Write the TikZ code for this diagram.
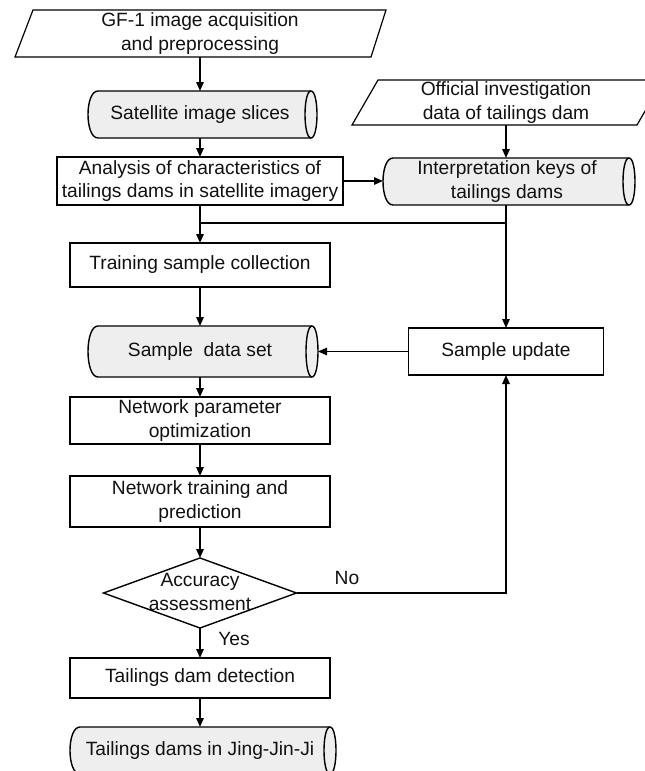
\documentclass[tikz,border=0pt]{standalone}
\usepackage{fontspec}
\setmainfont{Liberation Sans}
\usetikzlibrary{arrows.meta,shapes.geometric,calc}
\definecolor{cylfill}{HTML}{EEEEEE}
\definecolor{txtcol}{HTML}{111111}
\tikzset{
  line/.style={line width=1.4pt, draw=black},
  arr/.style={line, -{Triangle[length=9pt,width=7.5pt]}},
  txt/.style={align=center, inner sep=0pt, outer sep=0pt, text=txtcol, font=\fontsize{19.2}{23.5}\selectfont},
  boxnode/.style={txt, draw=black, line width=1.4pt},
  lbl/.style={inner sep=0pt, text=txtcol, font=\fontsize{19.2}{23.5}\selectfont},
}
\newcommand\mycyl[7]{% name, xl, xr, top, bot, text, text-x
  \path[draw=black, line width=1.4pt, fill=cylfill]
    ({#2+10},#4) -- (#3,#4) .. controls ({#3+8},#4) and ({#3+8},#5) .. (#3,#5)
    -- ({#2+10},#5) .. controls ({#2-3.33},#5) and ({#2-3.33},#4) .. cycle;
  \draw[line width=1.4pt] (#3,#4) .. controls ({#3-8},#4) and ({#3-8},#5) .. (#3,#5);
  \node[txt, minimum width={#3+6-#2}, minimum height={#5-#4}] (#1) at ({(#2+#3+6)/2},{(#4+#5)/2}) {};
  \node[txt] at (#7,{(#4+#5)/2}) {#6};
}
\begin{document}
\begin{tikzpicture}[x=1pt,y=-1pt]
\useasboundingbox (0,0) rectangle (645,771);
\clip (0,0) rectangle (645,771);

% parallelograms
\draw[line width=1.2pt] (33,10) -- (386,10) -- (371,57) -- (15,57) -- cycle;
\node[txt, minimum width=330, minimum height=47] (gf) at (200,33.5) {GF-1 image acquisition\\and preprocessing};
\draw[line width=1.2pt] (378,80) -- (663,80) -- (637,125) -- (352,125) -- cycle;
\node[txt, minimum width=260, minimum height=45] (off) at (506,102.5) {Official investigation\\data of tailings dam};

% cylinders
\mycyl{sat}{88}{311}{91}{138}{Satellite image slices}{200}
\mycyl{int}{383}{629}{158}{205}{Interpretation keys of\\tailings dams}{507}
\mycyl{sds}{88}{312}{326}{377}{Sample~ data set}{200}
\mycyl{fin}{70}{330}{727}{774}{Tailings dams in Jing-Jin-Ji}{200}

% boxes
\node[boxnode, minimum width=286, minimum height=48] (ana) at (200,181) {Analysis of characteristics of\\tailings dams in satellite imagery};
\node[boxnode, minimum width=260, minimum height=44] (train) at (200,265) {Training sample collection};
\node[boxnode, minimum width=195, minimum height=47] (upd) at (506,351.5) {Sample update};
\node[boxnode, minimum width=260, minimum height=47] (par) at (200,420.5) {Network parameter\\optimization};
\node[boxnode, minimum width=260, minimum height=51] (trn) at (200,501.5) {Network training and\\prediction};
\node[boxnode, minimum width=260, minimum height=40] (det) at (200,678) {Tailings dam detection};

% diamond
\node[diamond, draw=black, line width=1.4pt, inner sep=0pt, outer sep=0pt, minimum width=193, minimum height=70] (acc) at (200,593) {};
\node[txt] at (200,592) {Accuracy\\assessment};

% junctions
\coordinate (j1) at (200,223);
\coordinate (j2) at (506,223);

% connectors
\draw[arr] (gf.south) -- (gf.south |- sat.north);
\draw[arr] (ana.north |- sat.south) -- (ana.north);
\draw[arr] (ana.east) -- (ana.east -| int.west);
\draw[arr] (off.south) -- (off.south |- int.north);
\draw[line] (ana.south) -- (j1);
\draw[arr] (j1) -- (train.north);
\draw[line] (j2 |- int.south) -- (j2) -- (j1);
\draw[arr] (j2) -- (j2 |- upd.north);
\draw[arr] (train.south) -- (train.south |- sds.north);
\draw[arr] (upd.west) -- (upd.west -| sds.east);
\draw[arr] (par.north |- sds.south) -- (par.north);
\draw[arr] (par.south) -- (trn.north);
\draw[arr] (trn.south) -- (acc.north);
\draw[arr] (acc.south) -- (det.north);
\draw[arr] (acc.east) -| (upd.south);
\draw[arr] (det.south) -- (det.south |- fin.north);

% labels
\node[lbl] (no) at (347,578) {No};
\node[lbl] (yes) at (234,639) {Yes};
\end{tikzpicture}
\end{document}
